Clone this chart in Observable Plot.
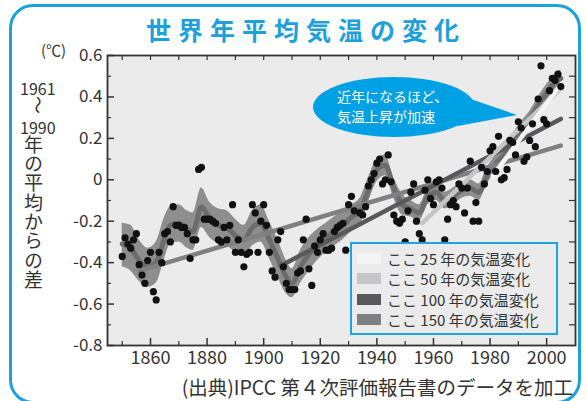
<!DOCTYPE html>
<html><head><meta charset="utf-8">
<script src="https://cdn.jsdelivr.net/npm/d3@7"></script>
<script src="https://cdn.jsdelivr.net/npm/@observablehq/plot@0.6"></script>
<style>
html,body{margin:0;padding:0;background:#fff;}
#wrap{position:relative;width:585px;height:401px;overflow:hidden;font-family:"Noto Sans CJK JP","Noto Sans",sans-serif;color:#333;}
#wrap > *{position:absolute;}
#chart{left:0;top:0;}
#border{left:9px;top:4px;width:572px;height:400px;border:3px solid #1da1dd;border-radius:24px;box-sizing:border-box;}
#title{left:0;width:612px;top:11px;text-align:center;font-size:25px;font-weight:bold;color:#1da1dd;letter-spacing:7px;line-height:36px;white-space:nowrap;}
#unit{left:41px;top:41px;font-size:15px;line-height:18px;}
#y1961{left:20px;top:79px;font-size:16px;line-height:18px;}
#tilde{left:30px;top:96px;font-size:18px;line-height:18px;transform:rotate(90deg);}
#y1990{left:20px;top:118px;font-size:16px;line-height:18px;}
#vlabel{left:24px;top:135px;writing-mode:vertical-rl;font-size:19px;line-height:19px;letter-spacing:0.3px;}
#caption{right:12px;top:375px;font-size:19.5px;line-height:24px;white-space:nowrap;}
#bubble{left:0;top:0;}
.btext{color:#fff;font-size:14px;line-height:20px;white-space:nowrap;}
#legend{left:350px;top:242px;width:208px;height:93px;border:2px solid #1da5e2;box-sizing:border-box;background:#ebebeb;}
.lrow{position:absolute;left:5px;height:20px;display:flex;align-items:center;font-size:15px;white-space:nowrap;color:#333;}
.sw{width:24px;height:11px;margin-right:6px;}
</style></head>
<body><div id="wrap"></div>
<script>
// ---- data ----
const startYear = 1850;
const annualAnomaly = [
 -0.37,-0.28,-0.31,-0.33,-0.29,-0.26,-0.41,-0.46,-0.50,-0.39,
 -0.35,-0.54,-0.58,-0.35,-0.40,-0.26,-0.25,-0.30,-0.13,-0.22,
 -0.22,-0.23,-0.23,-0.26,-0.38,-0.29,-0.29, 0.05, 0.06,-0.19,
 -0.19,-0.19,-0.20,-0.21,-0.29,-0.30,-0.23,-0.29,-0.22,-0.12,
 -0.35,-0.29,-0.35,-0.42,-0.36,-0.35,-0.12,-0.16,-0.35,-0.20,
 -0.12,-0.22,-0.35,-0.44,-0.47,-0.29,-0.25,-0.42,-0.50,-0.53,
 -0.53,-0.53,-0.45,-0.44,-0.29,-0.19,-0.43,-0.51,-0.32,-0.35,
 -0.29,-0.26,-0.34,-0.34,-0.33,-0.25,-0.23,-0.22,-0.21,-0.34,
 -0.12,-0.08,-0.15,-0.32,-0.16,-0.17,-0.13,-0.03, 0.00, 0.03,
  0.08, 0.10,-0.02, 0.00, 0.12,-0.01,-0.17,-0.20,-0.21,-0.19,
 -0.30,-0.15,-0.06,-0.02,-0.20,-0.26,-0.29,-0.05, 0.00,-0.09,
 -0.12,-0.01, 0.00,-0.04,-0.29,-0.19,-0.12,-0.10,-0.13,-0.02,
 -0.04,-0.16,-0.04, 0.09,-0.20,-0.11,-0.20, 0.06,-0.02, 0.04,
  0.14, 0.16, 0.04, 0.21, 0.00, 0.01, 0.05, 0.19, 0.18, 0.12,
  0.28, 0.25, 0.09, 0.11, 0.19, 0.27, 0.16, 0.39, 0.55, 0.29,
  0.27, 0.43, 0.49, 0.48, 0.51, 0.45
];
// decadal smoothing with uncertainty band
const smoothYears = [1850,1853,1856,1859,1862,1865,1867,1870,1873,1875,1878,1881,1884,1887,1890,1893,1896,1899,1902,1905,1908,1910,1913,1916,1919,1922,1925,1928,1931,1934,1937,1940,1943,1946,1949,1952,1955,1958,1961,1964,1967,1970,1973,1976,1979,1982,1985,1988,1991,1994,1997,2000,2003,2005];
const smoothMid   = [-0.31,-0.33,-0.39,-0.42,-0.40,-0.28,-0.22,-0.21,-0.24,-0.25,-0.13,-0.19,-0.22,-0.23,-0.27,-0.29,-0.23,-0.21,-0.29,-0.38,-0.47,-0.50,-0.42,-0.36,-0.31,-0.28,-0.25,-0.22,-0.18,-0.15,-0.05,0.05,0.07,-0.04,-0.12,-0.14,-0.16,-0.08,-0.06,-0.10,-0.08,-0.05,-0.04,-0.06,0.02,0.08,0.12,0.18,0.24,0.29,0.36,0.42,0.47,0.49];
const smoothLow   = [-0.42,-0.44,-0.49,-0.52,-0.50,-0.38,-0.31,-0.30,-0.33,-0.34,-0.23,-0.28,-0.31,-0.32,-0.35,-0.37,-0.32,-0.30,-0.38,-0.47,-0.55,-0.57,-0.50,-0.44,-0.39,-0.35,-0.32,-0.29,-0.25,-0.22,-0.11,-0.01,0.02,-0.09,-0.17,-0.18,-0.20,-0.12,-0.10,-0.14,-0.12,-0.09,-0.08,-0.10,-0.02,0.04,0.08,0.14,0.20,0.25,0.32,0.38,0.43,0.45];
const smoothHigh  = [-0.21,-0.22,-0.29,-0.33,-0.30,-0.18,-0.13,-0.12,-0.15,-0.16,-0.04,-0.11,-0.14,-0.15,-0.19,-0.22,-0.15,-0.12,-0.20,-0.29,-0.39,-0.43,-0.34,-0.28,-0.24,-0.21,-0.18,-0.15,-0.12,-0.09,0.01,0.10,0.12,0.01,-0.07,-0.10,-0.12,-0.04,-0.02,-0.06,-0.04,-0.01,0.00,-0.02,0.06,0.12,0.16,0.22,0.28,0.33,0.40,0.46,0.51,0.53];
// linear trends (start year, end year, start value, end value)
const trendNames  = ["ここ 25 年の気温変化","ここ 50 年の気温変化","ここ 100 年の気温変化","ここ 150 年の気温変化"];
const trendStart  = [1981, 1956, 1906, 1856];
const trendEnd    = [2005, 2005, 2005, 2005];
const trendFrom   = [0.02, -0.21, -0.415, -0.44];
const trendTo     = [0.46, 0.44, 0.294, 0.165];
const trendColors = ["#f4f4f4", "#c6c6c8", "#59595b", "#808082"];
// axes
const xMajor = [1860,1880,1900,1920,1940,1960,1980,2000];
const xMinor = [1850,1870,1890,1910,1930,1950,1970,1990];
const xTop   = [1850,1860,1870,1880,1890,1900,1910,1920,1930,1940,1950,1960,1970,1980,1990,2000];
const yMajor = [-0.8,-0.6,-0.4,-0.2,0,0.2,0.4,0.6];
const yMinor = [-0.7,-0.5,-0.3,-0.1,0.1,0.3,0.5];
const yRight = [-0.7,-0.6,-0.5,-0.4,-0.3,-0.2,-0.1,0,0.1,0.2,0.3,0.4,0.5];

// ---- build tables ----
const annual = annualAnomaly.map((v, i) => ({year: startYear + i, anom: v}));
const smooth = smoothYears.map((y, i) => ({year: y, mid: smoothMid[i], low: smoothLow[i], high: smoothHigh[i]}));
const trends = trendNames.map((n, i) => ({name: n, color: trendColors[i],
  pts: [{year: trendStart[i], v: trendFrom[i]}, {year: trendEnd[i], v: trendTo[i]}]}));

const W = 585, H = 401, mL = 107, mR = 10, mT = 55, mB = 56;
const pw = W - mL - mR, ph = H - mT - mB;

const chart = Plot.plot({
  width: W, height: H,
  marginLeft: mL, marginRight: mR, marginTop: mT, marginBottom: mB,
  style: {background: "transparent", fontFamily: "'Noto Sans CJK JP', sans-serif", color: "#333"},
  x: {domain: [1844.8, 2010.2], axis: null, label: null},
  y: {domain: [-0.8, 0.6], axis: null, label: null},
  marks: [
    Plot.frame({fill: "#ebebeb", stroke: null}),
    Plot.areaY(smooth, {x: "year", y1: "low", y2: "high", fill: "#8e8e8e", curve: "monotone-x"}),
    Plot.lineY(smooth, {x: "year", y: "mid", stroke: "#6c6c6c", strokeWidth: 5, curve: "monotone-x"}),
    ...trends.slice().reverse().map(t => Plot.line(t.pts, {x: "year", y: "v", stroke: t.color, strokeWidth: 4.5})),
    Plot.dot(annual, {x: "year", y: "anom", r: 3.6, fill: "#111", stroke: null}),
    // ticks (inward)
    Plot.tickX(xMajor, {x: d => d, insetTop: ph - 7, stroke: "#333", strokeWidth: 1.5}),
    Plot.tickX(xMinor, {x: d => d, insetTop: ph - 4, stroke: "#333", strokeWidth: 1.2}),
    Plot.tickX(xTop, {x: d => d, insetBottom: ph - 5, stroke: "#333", strokeWidth: 1.2}),
    Plot.tickY(yMajor, {y: d => d, insetRight: pw - 7, stroke: "#333", strokeWidth: 1.5}),
    Plot.tickY(yMinor, {y: d => d, insetRight: pw - 4, stroke: "#333", strokeWidth: 1.2}),
    Plot.tickY(yRight, {y: d => d, insetLeft: pw - 6, stroke: "#333", strokeWidth: 1.2}),
    Plot.axisX(xMajor, {tickSize: 0, tickPadding: 6, fontSize: 18, tickFormat: d => String(d), fill: "#333", label: null}),
    Plot.axisY(yMajor, {tickSize: 0, tickPadding: 5, fontSize: 17, tickFormat: d => d === 0 ? "0" : d.toFixed(1), fill: "#333", label: null}),
    Plot.frame({stroke: "#333", strokeWidth: 1.8})
  ]
});

const wrap = document.getElementById("wrap");
chart.id = "chart";
wrap.appendChild(chart);

function el(tag, attrs, html) { const e = document.createElement(tag); Object.assign(e, attrs); if (html != null) e.innerHTML = html; wrap.appendChild(e); return e; }
el("div", {id: "border"});
el("div", {id: "title"}, "世界年平均気温の変化");
el("div", {id: "unit"}, "(℃)");
el("div", {id: "y1961"}, "1961");
el("div", {id: "tilde"}, "〜");
el("div", {id: "y1990"}, "1990");
el("div", {id: "vlabel"}, "年の平均からの差");
el("div", {id: "caption"}, "(出典)IPCC 第４次評価報告書のデータを加工");

// callout bubble
const ns = "http://www.w3.org/2000/svg";
const bsvg = document.createElementNS(ns, "svg");
bsvg.setAttribute("width", W); bsvg.setAttribute("height", H); bsvg.id = "bubble";
bsvg.innerHTML = '<ellipse cx="394" cy="107" rx="81" ry="30" fill="#00a0e4"/>' +
  '<path d="M462,96 L517,115 L458,126 Z" fill="#00a0e4"/>';
wrap.appendChild(bsvg);
const b1 = el("div", {className: "btext"}, "近年になるほど、"); b1.style.left = "337px"; b1.style.top = "86px";
const b2 = el("div", {className: "btext"}, "気温上昇が加速"); b2.style.left = "337px"; b2.style.top = "106px";

// legend
const leg = el("div", {id: "legend"});
trends.forEach((t, i) => {
  const r = document.createElement("div");
  r.className = "lrow"; r.style.top = (4 + i * 20.5) + "px";
  r.innerHTML = `<span class="sw" style="background:${t.color}"></span><span>${t.name}</span>`;
  leg.appendChild(r);
});
</script>
</body></html>
